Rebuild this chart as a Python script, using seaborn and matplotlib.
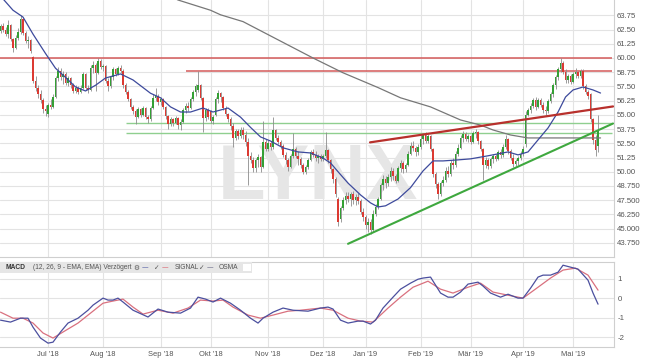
import numpy as np
import pandas as pd
import matplotlib
matplotlib.use("Agg")
import matplotlib.pyplot as plt
import seaborn as sns
from matplotlib import font_manager
from matplotlib.patches import Rectangle

# ---------------- data ----------------
opens = [62.6, 62.4, 62.8, 62.5, 62.1, 62.9, 61.7, 60.9, 61.8, 62.3, 63.4, 62.2, 61.5, 61.6, 60.1, 58.0, 57.4, 56.8, 56.3, 55.5,
         55.1, 55.9, 55.7, 56.6, 58.2, 58.9, 58.3, 58.6, 57.8, 58.2, 57.6, 57.1, 57.4, 57.0, 57.4, 58.6, 57.4, 57.2, 59.1, 59.4,
         58.7, 59.7, 59.2, 59.3, 58.0, 57.5, 58.3, 59.0, 58.6, 59.1, 58.9, 57.6, 57.0, 56.4, 55.7, 55.3, 54.8, 55.5, 55.0, 55.6,
         54.8, 54.6, 55.6, 56.5, 56.7, 56.1, 56.4, 55.7, 54.9, 54.2, 54.6, 54.3, 54.7, 54.1, 54.4, 55.4, 55.8, 55.6, 56.4, 57.0,
         57.2, 57.6, 56.5, 54.7, 55.4, 55.3, 54.5, 55.0, 56.4, 56.9, 56.6, 55.6, 55.1, 54.6, 54.0, 53.0, 53.6, 53.1, 53.7, 53.2,
         52.6, 51.4, 51.0, 50.3, 51.0, 51.3, 50.4, 52.6, 52.0, 52.5, 52.2, 53.7, 53.0, 52.6, 52.3, 51.5, 51.0, 50.4, 51.4, 52.0,
         51.4, 51.1, 50.6, 50.0, 50.4, 51.0, 51.7, 51.5, 51.2, 51.4, 51.1, 51.4, 51.9, 51.0, 50.2, 49.4, 47.6, 45.8, 46.8, 47.5,
         47.9, 47.6, 48.0, 47.5, 47.8, 47.4, 46.5, 46.0, 45.3, 45.6, 44.9, 46.3, 46.9, 47.6, 48.8, 49.4, 49.0, 49.5, 50.1, 49.6,
         49.2, 50.3, 50.8, 50.2, 50.6, 51.6, 52.3, 52.1, 51.7, 52.2, 52.9, 53.2, 52.7, 53.1, 52.0, 49.8, 48.9, 48.0, 49.0, 49.3,
         50.1, 49.8, 50.8, 50.6, 51.6, 52.1, 53.0, 53.3, 52.9, 53.1, 52.6, 53.4, 53.5, 52.7, 52.0, 50.6, 51.0, 50.5, 51.1, 51.4,
         51.1, 51.7, 51.5, 52.2, 52.9, 51.8, 51.2, 50.7, 50.9, 51.2, 51.6, 52.4, 55.0, 55.4, 55.8, 56.3, 55.7, 56.3, 55.9, 55.4,
         55.3, 56.2, 56.8, 57.6, 58.3, 59.0, 59.6, 58.8, 58.1, 58.4, 57.9, 58.6, 58.8, 58.4, 58.9, 57.5, 57.0, 56.8, 54.6, 52.8,
         52.3]
highs = [63.0, 63.0, 63.1, 62.7, 63.3, 63.0, 61.8, 62.0, 62.6, 63.8, 63.5, 62.4, 61.9, 61.7, 60.2, 58.4, 57.6, 57.2, 56.5, 55.9,
         56.0, 56.4, 56.8, 58.4, 59.2, 59.1, 58.9, 58.8, 58.4, 58.3, 57.8, 57.6, 57.5, 57.6, 58.8, 58.7, 57.6, 59.4, 59.7, 59.6,
         60.0, 59.9, 59.5, 59.4, 58.2, 58.4, 59.2, 59.1, 59.3, 59.4, 59.0, 57.8, 57.2, 56.5, 55.9, 55.5, 55.7, 55.6, 55.8, 55.7,
         55.0, 55.8, 56.8, 57.4, 56.8, 56.6, 56.5, 55.8, 55.0, 54.8, 54.7, 54.9, 54.8, 54.6, 55.6, 56.0, 56.1, 56.6, 57.2, 57.7,
         58.9, 57.7, 56.6, 55.6, 55.6, 55.4, 55.0, 56.6, 57.2, 57.0, 56.7, 55.8, 55.2, 54.8, 54.3, 53.8, 53.8, 53.9, 53.9, 53.6,
         53.0, 51.7, 51.3, 51.2, 51.6, 51.4, 54.5, 52.9, 52.8, 52.7, 54.8, 53.8, 53.2, 52.8, 52.4, 51.7, 51.2, 51.6, 53.4, 52.2,
         51.8, 51.3, 50.8, 50.6, 51.2, 51.9, 52.0, 51.8, 51.6, 51.6, 51.6, 53.5, 52.0, 51.1, 50.3, 49.5, 47.8, 47.0, 47.8, 48.2,
         48.2, 48.2, 48.3, 48.0, 48.1, 47.6, 46.8, 46.2, 45.9, 45.8, 46.6, 47.2, 47.8, 49.0, 49.7, 49.6, 49.8, 50.4, 50.3, 49.8,
         50.5, 51.0, 50.9, 50.8, 51.8, 52.6, 52.7, 52.3, 52.4, 53.2, 53.4, 53.5, 53.3, 53.2, 52.1, 50.0, 49.1, 49.2, 49.6, 50.4,
         50.5, 51.0, 51.2, 51.8, 52.4, 53.2, 53.6, 53.5, 53.3, 53.2, 53.6, 53.8, 53.6, 52.8, 52.1, 51.3, 51.2, 51.3, 51.6, 51.6,
         51.9, 52.0, 52.4, 53.2, 53.0, 52.0, 51.6, 51.1, 51.4, 51.8, 52.3, 55.3, 55.6, 56.0, 56.5, 56.6, 56.5, 56.5, 56.1, 55.8,
         56.4, 57.0, 57.8, 58.5, 59.2, 60.0, 59.7, 59.0, 58.6, 58.6, 58.8, 59.1, 58.9, 59.0, 59.0, 57.7, 57.2, 56.9, 54.7, 53.2,
         55.0]
lows = [62.2, 62.2, 62.3, 61.9, 61.8, 61.5, 60.5, 60.8, 61.6, 62.1, 62.0, 61.3, 60.9, 60.4, 57.8, 57.1, 56.5, 56.0, 55.2, 54.9,
        54.8, 55.5, 55.6, 56.5, 58.0, 58.1, 57.7, 57.6, 57.5, 57.4, 56.9, 56.9, 56.8, 56.9, 57.3, 57.2, 56.9, 57.1, 58.7, 57.1,
        58.6, 59.0, 58.9, 57.8, 57.1, 57.4, 58.1, 58.4, 58.5, 58.7, 57.4, 56.8, 56.2, 55.5, 55.1, 54.2, 54.7, 54.8, 54.9, 54.6,
        54.3, 54.5, 55.5, 56.2, 55.9, 55.9, 55.5, 54.6, 53.8, 54.0, 54.0, 54.2, 53.8, 53.7, 54.3, 55.2, 55.3, 55.5, 56.2, 56.7,
        57.0, 56.3, 53.5, 54.5, 54.6, 54.3, 54.2, 54.9, 56.0, 56.1, 55.4, 54.9, 54.4, 53.7, 52.2, 52.8, 52.9, 53.0, 52.9, 52.3,
        48.8, 50.8, 50.0, 50.0, 50.4, 50.0, 50.3, 51.8, 51.8, 51.9, 52.0, 52.8, 52.4, 52.0, 51.3, 50.7, 50.1, 50.3, 51.2, 51.2,
        50.6, 50.3, 49.8, 49.8, 50.2, 50.9, 51.3, 50.9, 50.8, 50.9, 50.9, 51.2, 50.8, 49.9, 49.0, 47.8, 45.2, 45.6, 46.6, 47.2,
        47.3, 47.0, 47.2, 47.1, 47.2, 46.3, 45.7, 45.0, 44.7, 44.5, 44.7, 46.1, 46.7, 47.5, 48.4, 48.6, 48.7, 49.2, 49.3, 49.0,
        49.1, 50.0, 49.9, 50.0, 50.5, 51.5, 51.8, 51.4, 51.5, 52.0, 52.4, 52.5, 52.5, 51.8, 49.5, 48.6, 47.6, 47.9, 48.7, 49.1,
        49.5, 49.6, 50.2, 50.4, 51.4, 52.0, 52.6, 52.7, 52.6, 52.4, 52.5, 53.0, 52.4, 51.8, 49.3, 50.3, 50.2, 50.3, 50.8, 50.9,
        51.0, 51.2, 51.3, 52.0, 51.6, 51.0, 50.4, 50.5, 50.6, 51.0, 51.4, 52.2, 54.9, 55.2, 55.6, 55.4, 55.6, 55.7, 55.2, 55.0,
        55.2, 56.0, 56.6, 57.3, 58.1, 58.8, 58.6, 57.8, 57.8, 57.7, 57.8, 58.2, 58.2, 58.2, 57.3, 56.8, 56.4, 54.4, 52.4, 51.4,
        51.7]
closes = [62.4, 62.8, 62.5, 62.1, 62.9, 61.7, 60.9, 61.8, 62.3, 63.4, 62.2, 61.5, 61.6, 60.6, 58.0, 57.4, 56.8, 56.3, 55.5, 55.3,
          55.9, 55.7, 56.6, 58.2, 58.9, 58.3, 58.6, 57.8, 58.2, 57.6, 57.1, 57.4, 57.0, 57.4, 58.6, 57.4, 57.2, 59.1, 59.4, 58.7,
          59.7, 59.2, 59.3, 58.0, 57.5, 58.3, 59.0, 58.6, 59.1, 58.9, 57.6, 57.0, 56.4, 55.7, 55.3, 54.8, 55.5, 55.0, 55.6, 54.8,
          54.6, 55.6, 56.5, 56.7, 56.1, 56.4, 55.7, 54.9, 54.2, 54.6, 54.3, 54.7, 54.1, 54.4, 55.4, 55.8, 55.6, 56.4, 57.0, 57.5,
          57.6, 56.5, 54.7, 55.4, 54.8, 54.5, 54.8, 56.4, 56.9, 56.6, 55.6, 55.1, 54.6, 54.0, 53.0, 53.6, 53.1, 53.7, 53.2, 52.6,
          51.4, 51.0, 50.3, 51.0, 51.3, 50.4, 52.6, 52.0, 52.5, 52.2, 53.7, 53.0, 52.6, 52.3, 51.5, 51.0, 50.4, 51.4, 52.0, 51.4,
          51.1, 50.6, 50.0, 50.4, 51.0, 51.7, 51.5, 51.2, 51.4, 51.1, 51.4, 51.9, 51.0, 50.2, 49.4, 48.0, 45.6, 46.8, 47.5, 47.9,
          47.6, 48.0, 47.5, 47.8, 47.4, 46.5, 46.0, 45.3, 45.6, 44.9, 46.3, 46.9, 47.6, 48.8, 49.4, 49.0, 49.5, 50.1, 49.6, 49.2,
          50.3, 50.8, 50.2, 50.6, 51.6, 52.3, 52.1, 51.7, 52.2, 52.9, 53.2, 52.7, 53.1, 52.0, 49.8, 48.9, 48.0, 49.0, 49.3, 50.1,
          49.8, 50.8, 50.6, 51.6, 52.1, 53.0, 53.3, 52.9, 53.1, 52.6, 53.4, 53.5, 52.7, 52.0, 50.6, 51.0, 50.5, 51.1, 51.4, 51.1,
          51.7, 51.5, 52.2, 52.9, 51.8, 51.2, 50.7, 50.9, 51.2, 51.6, 52.0, 55.0, 55.4, 55.8, 56.3, 55.7, 56.3, 55.9, 55.4, 55.3,
          56.2, 56.8, 57.6, 58.3, 59.0, 59.6, 58.8, 58.1, 58.4, 57.9, 58.6, 58.8, 58.4, 58.9, 57.5, 57.0, 56.7, 54.6, 52.8, 51.9,
          53.6]

exchange_holidays = ["2018-12-24", "2018-12-25", "2018-12-26", "2018-12-31", "2019-01-01",
                     "2019-04-19", "2019-04-22", "2019-05-01"]
first_session = "2018-06-04"

month_labels = ["Jul '18", "Aug '18", "Sep '18", "Okt '18", "Nov '18", "Dez '18",
                "Jan '19", "Feb '19", "Mär '19", "Apr '19", "Mai '19"]

price_ticks = [63.75, 62.5, 61.25, 60.0, 58.75, 57.5, 56.25, 55.0, 53.75, 52.5, 51.25, 50.0,
               48.75, 47.5, 46.25, 45.0, 43.75]
price_tick_labels = ["63.75", "62.50", "61.25", "60.00", "58.75", "57.50", "56.25", "55.00",
                     "53.75", "52.50", "51.25", "50.00", "48.750", "47.500", "46.250", "45.000", "43.750"]

# 20-day moving average (blue) read at sample sessions
ma20_day = [2, 6, 10, 14, 19, 23, 27, 31, 35, 39, 43, 49, 54, 61, 65, 69, 73, 77, 82, 86,
            92, 97, 101, 105, 109, 114, 120, 125, 130, 133, 136, 140, 145, 149, 152, 155, 160, 165, 170, 174,
            178, 184, 189, 196, 204, 208, 212, 216, 220, 224, 227, 230, 234, 238, 241]
ma20_val = [65.2, 64.2, 63.6, 62.1, 60.4, 59.1, 58.3, 57.45, 57.1, 57.6, 58.24, 58.6, 58.07, 56.9, 56.5, 55.7, 55.25, 55.25, 55.6, 55.25,
            55.6, 54.8, 53.9, 53.06, 52.7, 52.1, 51.74, 51.65, 51.2, 50.77, 50.0, 49.0, 47.96, 47.26, 46.9, 47.0, 47.6, 48.6, 50.07, 50.95,
            50.95, 51.04, 51.13, 51.4, 51.74, 51.48, 51.74, 52.8, 53.85, 55.25, 56.57, 57.19, 57.45, 57.19, 56.92]

# 200-day moving average (grey)
ma200_day = [60, 72, 85, 89, 98, 112, 126, 138, 152, 161, 173, 185, 193, 198, 205, 212, 241]
ma200_val = [66.5, 65.1, 64.2, 63.8, 63.2, 61.6, 60.0, 58.7, 57.4, 56.5, 55.7, 54.55, 54.1, 53.67, 53.23, 52.97, 52.97]

# horizontal resistance / support levels
red_levels = [60.0, 58.85]
red_level_from = [0, 75]
green_levels = [54.24, 53.41]
green_level_from = [51, 51]
level_until = 245.6

# trend lines (session, price)
red_trend_day = [148.8, 246.0]
red_trend_val = [52.58, 55.74]
green_trend_day = [140.0, 246.0]
green_trend_val = [43.66, 54.24]

# MACD (blue) and signal (red)
macd_day = [1, 5, 9, 12, 14, 17, 20, 22, 25, 28, 32, 36, 38, 42, 44, 46, 48, 50, 54, 60,
            64, 68, 73, 77, 80, 83, 86, 89, 93, 97, 101, 104, 106, 110, 114, 118, 124, 129, 132, 134,
            137, 140, 144, 146, 149, 151, 154, 158, 161, 165, 168, 170, 173, 175, 177, 180, 182, 185, 188, 192,
            194, 197, 201, 204, 208, 210, 213, 216, 218, 221, 224, 226, 229, 232, 236, 238, 240]
macd_val = [-1.13, -1.23, -1.03, -1.03, -1.49, -2.05, -2.31, -2.26, -1.74, -1.28, -1.03, -0.62, -0.36, 0.0, -0.1, -0.1, 0.0, -0.2, -0.62, -0.97,
            -0.56, -0.72, -0.77, -0.51, 0.05, -0.05, -0.2, 0.0, -0.26, -0.62, -1.03, -1.28, -1.03, -0.72, -0.51, -0.62, -0.67, -0.51, -0.46, -0.56,
            -1.13, -1.28, -1.18, -1.18, -1.33, -1.13, -0.51, 0.05, 0.46, 0.77, 0.97, 1.03, 1.08, 0.67, 0.26, 0.05, 0.05, 0.31, 0.72, 0.82,
            0.62, 0.26, 0.05, 0.2, 0.0, 0.0, 0.51, 1.08, 1.18, 1.18, 1.33, 1.69, 1.59, 1.49, 0.92, 0.26, -0.31]
signal_day = [1, 6, 10, 14, 18, 22, 26, 32, 37, 42, 46, 50, 54, 58, 64, 70, 76, 81, 86, 90,
              94, 100, 105, 110, 116, 121, 129, 134, 140, 145, 150, 156, 161, 166, 172, 177, 182, 188, 193, 198,
              204, 210, 216, 221, 226, 231, 236, 240]
signal_val = [-0.72, -1.03, -1.03, -1.28, -1.79, -2.05, -1.74, -1.28, -0.77, -0.26, -0.15, -0.05, -0.46, -0.82, -0.62, -0.77, -0.51, -0.1, -0.15, -0.1,
              -0.46, -0.87, -1.03, -0.87, -0.67, -0.62, -0.51, -0.62, -1.03, -1.18, -1.23, -0.51, 0.05, 0.56, 0.87, 0.46, 0.26, 0.56, 0.77, 0.31,
              0.15, 0.0, 0.56, 1.03, 1.44, 1.54, 1.18, 0.41]
macd_ticks = [1, 0, -1, -2]
macd_tick_labels = ["1", "0", "-1", "-2"]

# ---------------- styling ----------------
sns.set_style("white")
plt.rcParams["font.family"] = ["Liberation Sans", "DejaVu Sans"]

GREEN = "#34a034"
RED = "#dc3a32"
WICK = "#8c8c8c"
GRID = "#e3e3e3"
SPINE = "#cfcfcf"
TXT = "#555555"
LEVEL_RED = "#d45a5a"
LEVEL_GREEN = "#8fcf8f"

dates = pd.bdate_range(first_session, periods=len(closes), freq="C", holidays=exchange_holidays)
days = np.arange(len(closes))
new_month = np.r_[True, dates.month[1:] != dates.month[:-1]]
tick_days = days[new_month][1:]

o = np.array(opens); h = np.array(highs); l = np.array(lows); c = np.array(closes)

fig = plt.figure(figsize=(6.45, 3.63), dpi=100)
ax = fig.add_axes([0.0, 0.292, 0.952, 0.708])
ax2 = fig.add_axes([0.0, 0.044, 0.952, 0.234], sharex=ax)

XL = (0.8, 246.4)

# --- main price panel ---
ax.set_xlim(*XL)
ax.set_ylim(42.5, 65.1)
ax.set_yticks(price_ticks)
ax.set_yticklabels(price_tick_labels)
ax.set_xticks(tick_days)
ax.yaxis.tick_right()
ax.tick_params(axis="y", length=0, pad=1.8, labelsize=5.6, labelcolor=TXT)
ax.tick_params(axis="x", length=0, labelbottom=False)
ax.grid(True, color=GRID, lw=0.8, zorder=0)
ax.set_axisbelow(True)
for side, sp in ax.spines.items():
    sp.set_color(SPINE); sp.set_linewidth(0.8)
ax.spines["top"].set_visible(False)
ax.spines["left"].set_visible(False)

names = {f.name for f in font_manager.fontManager.ttflist}
wm_family = "Liberation Sans Narrow" if "Liberation Sans Narrow" in names else "Liberation Sans"
wm_size = 64 if wm_family.endswith("Narrow") else 56
ax.text(128, 49.4, "LYNX", ha="center", va="center", fontsize=wm_size, fontweight="bold",
        family=wm_family, color="#e6e6e6", zorder=1)

# levels
for lvl, start in zip(red_levels, red_level_from):
    ax.plot([start, level_until], [lvl, lvl], color=LEVEL_RED, lw=1.1, zorder=2,
            solid_capstyle="butt")
for lvl, start in zip(green_levels, green_level_from):
    ax.plot([start, level_until], [lvl, lvl], color=LEVEL_GREEN, lw=1.0, zorder=2,
            solid_capstyle="butt")

# candles
up = c >= o
body_col = np.where(up, GREEN, RED)
ax.vlines(days, l, h, colors=WICK, lw=0.6, zorder=3)
ax.bar(days, np.maximum(np.abs(c - o), 0.06), bottom=np.minimum(o, c), width=0.7,
       color=body_col, lw=0, zorder=4)

# moving averages
sns.lineplot(x=ma200_day, y=ma200_val, ax=ax, color="#777777", lw=0.9, estimator=None, sort=False, zorder=5)
sns.lineplot(x=ma20_day, y=ma20_val, ax=ax, color="#3d4a9c", lw=0.9, estimator=None, sort=False, zorder=5)

# trend lines
sns.lineplot(x=red_trend_day, y=red_trend_val, ax=ax, color="#b8302c", lw=1.6, estimator=None, sort=False, zorder=6)
sns.lineplot(x=green_trend_day, y=green_trend_val, ax=ax, color="#3ea83e", lw=1.5, estimator=None, sort=False, zorder=6)
ax.set_xlabel(""); ax.set_ylabel("")

# --- MACD panel ---
ax2.set_xlim(*XL)
ax2.set_ylim(-2.51, 1.85)
ax2.set_yticks(macd_ticks)
ax2.set_yticklabels(macd_tick_labels)
ax2.yaxis.tick_right()
ax2.tick_params(axis="y", length=0, pad=2.5, labelsize=5.6, labelcolor=TXT)
ax2.set_xticks(tick_days)
ax2.set_xticklabels(month_labels)
ax2.tick_params(axis="x", length=0, pad=3, labelsize=5.4, labelcolor=TXT)
ax2.grid(True, color=GRID, lw=0.8, zorder=0)
ax2.set_axisbelow(True)
for side, sp in ax2.spines.items():
    sp.set_color(SPINE); sp.set_linewidth(0.8)
ax2.spines["left"].set_visible(False)

sns.lineplot(x=signal_day, y=signal_val, ax=ax2, color="#d9707e", lw=0.9, estimator=None, sort=False, zorder=4)
sns.lineplot(x=macd_day, y=macd_val, ax=ax2, color="#4b4f9e", lw=0.9, estimator=None, sort=False, zorder=5)
ax2.set_xlabel(""); ax2.set_ylabel("")

# header band
ax2.add_patch(Rectangle((0, 0.87), 252 / 614, 0.13, transform=ax2.transAxes,
                        facecolor="#e6e6e6", edgecolor="none", zorder=6))
ax2.add_patch(Rectangle((243 / 614, 0.895), 8 / 614, 0.08, transform=ax2.transAxes,
                        facecolor="white", edgecolor="none", zorder=7))
hy = 0.935
hk = dict(transform=ax2.transAxes, va="center", ha="left", fontsize=4.8, zorder=8)
ax2.text(5 / 614, hy, "MACD", color="#333333", fontweight="bold", **hk)
ax2.text(33 / 614, hy, "(12, 26, 9 - EMA, EMA) Verzögert", color=TXT, **hk)
ax2.text(133 / 614, hy, "⚙", color=TXT, family=["DejaVu Sans"], **hk)
ax2.text(142 / 614, hy, "—", color="#3d4a9c", family=["DejaVu Sans"], **hk)
ax2.text(154 / 614, hy, "✓", color=TXT, family=["DejaVu Sans"], **hk)
ax2.text(162 / 614, hy, "—", color="#d9505e", family=["DejaVu Sans"], **hk)
ax2.text(175 / 614, hy, "SIGNAL", color=TXT, **hk)
ax2.text(199 / 614, hy, "✓", color=TXT, family=["DejaVu Sans"], **hk)
ax2.text(207 / 614, hy, "—", color="#555577", family=["DejaVu Sans"], **hk)
ax2.text(219 / 614, hy, "OSMA", color=TXT, **hk)

fig.savefig("out.png", dpi=100)
